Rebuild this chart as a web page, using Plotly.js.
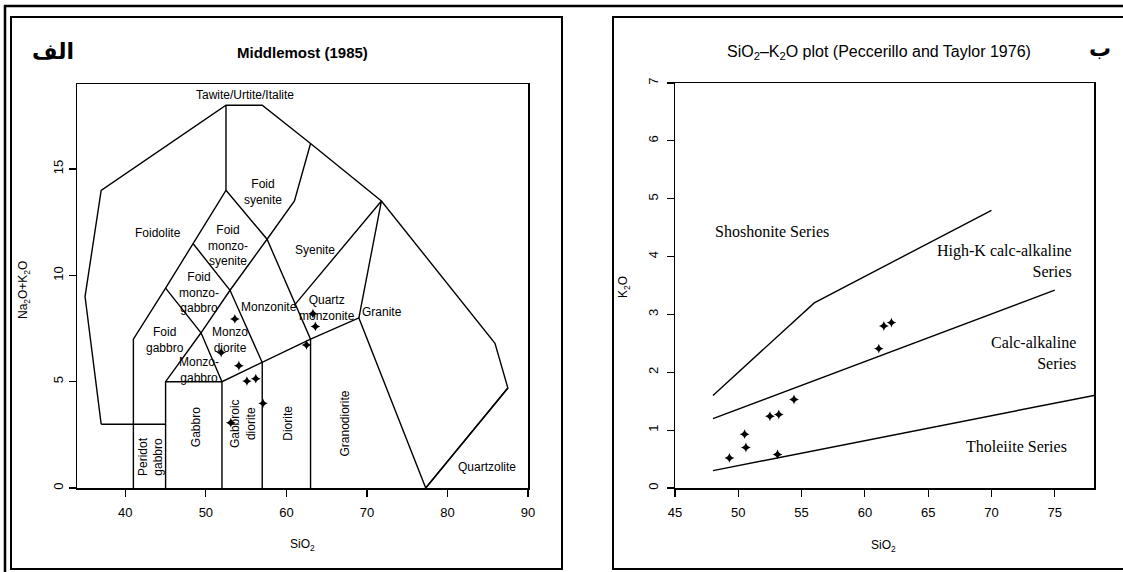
<!DOCTYPE html>
<html>
<head>
<meta charset="utf-8">
<script src="https://cdn.plot.ly/plotly-3.0.1.min.js"></script>
<style>html,body{margin:0;padding:0;background:#fff;}#chart{width:1123px;height:572px;}</style>
</head>
<body>
<div id="chart"></div>
<script>
// ---------- Left panel: Middlemost (1985) TAS boundaries ----------
const outerX = [37, 35, 37, 52.5, 57, 63, 71.8, 85.9, 87.5, 77.3];
const outerY = [3, 9, 14, 18, 18, 16.2, 13.5, 6.8, 4.7, 0];
const foidolBaseX = [37, 45];
const foidolBaseY = [3, 3];
const lineCX = [41, 41, 45, 48.4, 52.5, 52.5];
const lineCY = [0, 7, 9.4, 11.5, 14, 18];
const lineDX = [45, 45, 49.4, 53, 57.6, 61, 63];
const lineDY = [0, 5, 7.3, 9.3, 11.7, 13.5, 16.2];
const lineEX = [45, 52, 52];
const lineEY = [5, 5, 0];
const lineFX = [45, 49.4, 52, 57, 63, 69, 77.3];
const lineFY = [9.4, 7.3, 5, 5.9, 7, 8, 0];
const lineGX = [48.4, 53, 57, 57];
const lineGY = [11.5, 9.3, 5.9, 0];
const lineHX = [52.5, 57.6, 63, 63];
const lineHY = [14, 11.7, 7, 0];
const lineIX = [61, 71.8, 69];
const lineIY = [8.6, 13.5, 8];
const lineJX = [77.3, 87.5];
const lineJY = [0, 4.7];

const tasLabels = ["Tawite/Urtite/Italite", "Foid<br>syenite", "Foidolite", "Foid<br>monzo-<br>syenite",
  "Foid<br>monzo-<br>gabbro", "Syenite", "Monzonite", "Quartz<br>monzonite", "Granite",
  "Foid<br>gabbro", "Monzo<br>diorite", "Monzo-<br>gabbro", "Quartzolite"];
const tasLabelX = [54.9, 57.1, 44.0, 52.8, 49.1, 63.6, 57.8, 65.0, 71.9, 44.9, 53.0, 49.1, 84.9];
const tasLabelY = [18.5, 13.9, 12.0, 11.4, 9.2, 11.2, 8.5, 8.45, 8.3, 6.96, 6.96, 5.55, 1.0];
const tasVertLabels = ["Peridot<br>gabbro", "Gabbro", "Gabbroic<br>diorite", "Diorite", "Granodiorite"];
const tasVertX = [43.1, 48.7, 54.7, 60.25, 67.3];
const tasVertY = [1.47, 2.88, 3.04, 3.04, 3.04];

const tasSiO2 = [53.6, 51.9, 54.1, 55.1, 56.2, 57.1, 53.1, 63.6, 62.5, 63.3];
const tasAlk  = [7.95, 6.37, 5.75, 5.03, 5.14, 3.98, 3.07, 7.6, 6.73, 8.2];

const tasXTicks = [40, 50, 60, 70, 80, 90];
const tasYTicks = [0, 5, 10, 15];

// ---------- Right panel: Peccerillo & Taylor (1976) ----------
const shoX = [48, 56, 70];
const shoY = [1.6, 3.2, 4.8];
const hiKX = [48, 75];
const hiKY = [1.2, 3.42];
const thoX = [48, 78.1];
const thoY = [0.3, 1.6];

const ptLabels = ["Shoshonite Series", "High-K calc-alkaline<br>Series", "Calc-alkaline<br>Series", "Tholeiite Series"];
const ptLabelX = [52.7, 76.5, 76.8, 76.1];
const ptLabelY = [4.44, 3.92, 2.34, 0.71];

const kSiO2 = [61.1, 61.5, 62.1, 54.4, 52.5, 53.2, 50.5, 50.6, 49.3, 53.1];
const kK2O  = [2.41, 2.80, 2.86, 1.53, 1.24, 1.27, 0.93, 0.70, 0.52, 0.58];

const ptXTicks = [45, 50, 55, 60, 65, 70, 75];
const ptYTicks = [0, 1, 2, 3, 4, 5, 6, 7];

// ---------- build ----------
const W = 1123, H = 572;
const px = v => v / W;
const py = v => 1 - v / H;
const lineStyle = {color: 'black', width: 1.4};
function poly(x, y, ax) {
  return {x: x, y: y, mode: 'lines', line: lineStyle, xaxis: ax[0], yaxis: ax[1], hoverinfo: 'skip', showlegend: false, cliponaxis: true};
}
const L = ['x', 'y'], R = ['x2', 'y2'];
const traces = [
  poly(outerX, outerY, L), poly(foidolBaseX, foidolBaseY, L), poly(lineCX, lineCY, L),
  poly(lineDX, lineDY, L), poly(lineEX, lineEY, L), poly(lineFX, lineFY, L),
  poly(lineGX, lineGY, L), poly(lineHX, lineHY, L), poly(lineIX, lineIY, L), poly(lineJX, lineJY, L),
  {x: tasSiO2, y: tasAlk, mode: 'markers', xaxis: 'x', yaxis: 'y', showlegend: false,
   marker: {symbol: 'star-diamond', size: 7, color: 'black'}},
  poly(shoX, shoY, R), poly(hiKX, hiKY, R), poly(thoX, thoY, R),
  {x: kSiO2, y: kK2O, mode: 'markers', xaxis: 'x2', yaxis: 'y2', showlegend: false,
   marker: {symbol: 'star-diamond', size: 7, color: 'black'}}
];

const sans = 'Liberation Sans, Arial, sans-serif';
const serif = 'Liberation Serif, Times New Roman, serif';
const annotations = [];
tasLabels.forEach((t, i) => annotations.push({
  text: t, x: tasLabelX[i], y: tasLabelY[i], xref: 'x', yref: 'y', showarrow: false,
  xanchor: 'center', yanchor: 'middle',
  font: {family: sans, size: 12, color: 'black'}
}));
tasVertLabels.forEach((t, i) => annotations.push({
  text: t, x: tasVertX[i], y: tasVertY[i], xref: 'x', yref: 'y', showarrow: false, textangle: -90,
  xanchor: 'center', yanchor: 'middle',
  font: {family: sans, size: 12, color: 'black'}
}));
ptLabels.forEach((t, i) => annotations.push({
  text: t, x: ptLabelX[i], y: ptLabelY[i], xref: 'x2', yref: 'y2', showarrow: false,
  xanchor: i === 0 ? 'center' : 'right', yanchor: 'middle', align: i === 0 ? 'center' : 'right',
  font: {family: serif, size: 16, color: 'black'}
}));
function paperText(text, x, y, size, family, angle) {
  return {text: text, x: px(x), y: py(y), xref: 'paper', yref: 'paper', showarrow: false,
    xanchor: 'center', yanchor: 'middle', textangle: angle || 0,
    font: {family: family, size: size, color: 'black'}};
}
annotations.push(
  paperText('<b>Middlemost (1985)</b>', 302, 52, 15, sans),
  paperText('<b>الف</b>', 53, 51, 22, 'DejaVu Sans'),
  paperText('SiO<sub>2</sub>–K<sub>2</sub>O plot (Peccerillo and Taylor 1976)', 879, 52, 16, sans),
  paperText('<b>ب</b>', 1100, 49, 22, 'DejaVu Sans'),
  paperText('SiO<sub>2</sub>', 302, 545, 12, sans),
  paperText('Na<sub>2</sub>O+K<sub>2</sub>O', 24, 290, 12, sans, -90),
  paperText('SiO<sub>2</sub>', 883, 546, 12, sans),
  paperText('K<sub>2</sub>O', 624, 287, 12, sans, -90)
);

const frameLine = {color: 'black', width: 2};
const shapes = [
  {type: 'rect', xref: 'paper', yref: 'paper', x0: px(5), x1: 1.1, y0: py(6), y1: -0.1, line: {color: 'black', width: 2.5}},
  {type: 'rect', xref: 'paper', yref: 'paper', x0: px(11), x1: px(562), y0: py(17), y1: py(569), line: frameLine},
  {type: 'rect', xref: 'paper', yref: 'paper', x0: px(613), x1: 1.1, y0: py(17), y1: py(569), line: frameLine}
];

function axisBase(range, ticks, domain) {
  return {
    range: range, domain: domain, tickvals: ticks, ticktext: ticks.map(String),
    ticks: 'outside', ticklen: 7, tickwidth: 1.2, tickcolor: 'black',
    showline: true, mirror: true, linecolor: 'black', linewidth: 1.5,
    showgrid: false, zeroline: false, fixedrange: true,
    tickfont: {family: sans, size: 13, color: 'black'}
  };
}
const layout = {
  width: W, height: H, margin: {l: 0, r: 0, t: 0, b: 0},
  paper_bgcolor: 'white', plot_bgcolor: 'white', showlegend: false,
  xaxis: Object.assign(axisBase([34, 90], tasXTicks, [px(77), px(528)]), {anchor: 'y', ticklabelstandoff: 5}),
  yaxis: Object.assign(axisBase([0, 19], tasYTicks, [py(488), py(84)]), {anchor: 'x', tickangle: -90}),
  xaxis2: Object.assign(axisBase([45, 78.1], ptXTicks, [px(675), px(1094)]), {anchor: 'y2', ticklabelstandoff: 5}),
  yaxis2: Object.assign(axisBase([0, 7], ptYTicks, [py(488), py(83)]), {anchor: 'x2', tickangle: -90, ticklabelstandoff: 3}),
  annotations: annotations, shapes: shapes
};
Plotly.newPlot('chart', traces, layout, {staticPlot: true, displayModeBar: false});
</script>
</body>
</html>
